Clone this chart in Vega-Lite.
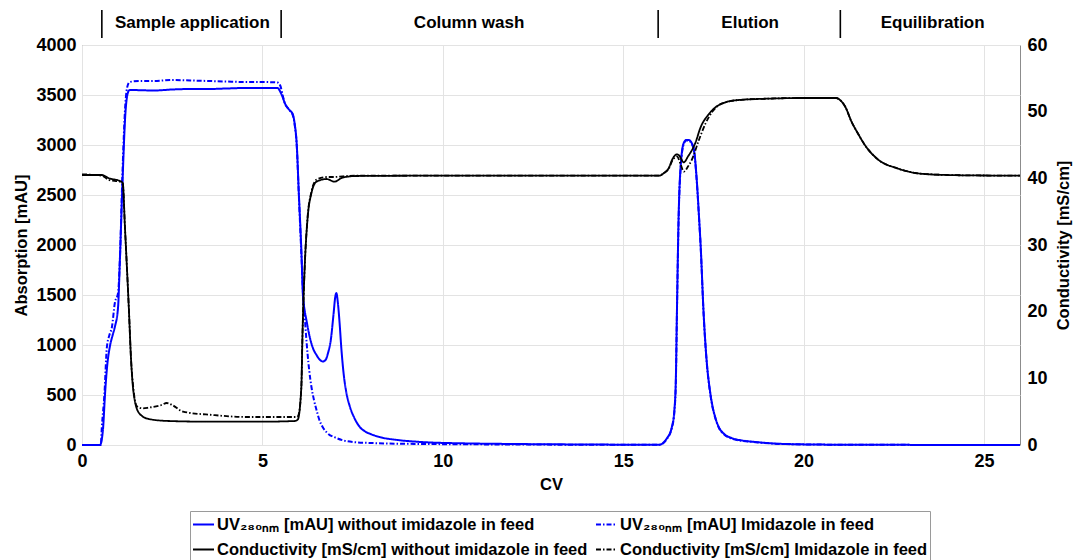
{
  "$schema": "https://vega.github.io/schema/vega-lite/v6.json",
  "width": 938,
  "height": 400,
  "autosize": {"type": "none"},
  "padding": {"left": 82, "top": 45, "right": 60, "bottom": 115},
  "background": "white",
  "config": {
    "view": {"stroke": "#8c8c8c", "strokeWidth": 1},
    "font": "Liberation Sans",
    "axis": {
      "labelFont": "Liberation Sans", "labelFontWeight": "bold", "labelFontSize": 18, "labelColor": "#000",
      "titleFont": "Liberation Sans", "titleFontWeight": "bold", "titleFontSize": 16.5, "titleColor": "#000",
      "domain": false, "ticks": false, "gridColor": "#e3e3e3", "gridWidth": 1, "labelFlush": false
    },
    "legend": {
      "labelFont": "Liberation Sans", "labelFontWeight": "bold", "labelFontSize": 16.5, "labelColor": "#000",
      "strokeColor": "#9a9a9a", "fillColor": "white", "padding": 2, "rowPadding": 5, "columnPadding": 4,
      "symbolStrokeWidth": 2, "labelLimit": 600, "labelOffset": 2
    }
  },
  "datasets": {
    "uv": [
      {"cv":0,"v":0,"s":"A"},{"cv":0.5,"v":0,"s":"A"},{"cv":0.58,"v":150,"s":"A"},{"cv":0.64,"v":520,"s":"A"},{"cv":0.7,"v":800,"s":"A"},{"cv":0.77,"v":980,"s":"A"},{"cv":0.85,"v":1100,"s":"A"},{"cv":0.91,"v":1180,"s":"A"},{"cv":1.0,"v":1380,"s":"A"},{"cv":1.05,"v":1850,"s":"A"},{"cv":1.12,"v":2600,"s":"A"},{"cv":1.2,"v":3300,"s":"A"},{"cv":1.27,"v":3520,"s":"A"},{"cv":1.32,"v":3550,"s":"A"},{"cv":2.0,"v":3545,"s":"A"},{"cv":2.5,"v":3555,"s":"A"},{"cv":3.0,"v":3560,"s":"A"},{"cv":3.5,"v":3560,"s":"A"},{"cv":4.0,"v":3565,"s":"A"},{"cv":4.5,"v":3570,"s":"A"},{"cv":5.0,"v":3570,"s":"A"},{"cv":5.42,"v":3570,"s":"A"},{"cv":5.5,"v":3530,"s":"A"},{"cv":5.56,"v":3480,"s":"A"},{"cv":5.62,"v":3420,"s":"A"},{"cv":5.75,"v":3350,"s":"A"},{"cv":5.84,"v":3310,"s":"A"},{"cv":5.9,"v":3200,"s":"A"},{"cv":5.95,"v":3020,"s":"A"},{"cv":6.01,"v":2520,"s":"A"},{"cv":6.09,"v":1850,"s":"A"},{"cv":6.12,"v":1520,"s":"A"},{"cv":6.17,"v":1350,"s":"A"},{"cv":6.22,"v":1250,"s":"A"},{"cv":6.3,"v":1100,"s":"A"},{"cv":6.39,"v":980,"s":"A"},{"cv":6.5,"v":900,"s":"A"},{"cv":6.6,"v":850,"s":"A"},{"cv":6.67,"v":835,"s":"A"},{"cv":6.75,"v":850,"s":"A"},{"cv":6.82,"v":920,"s":"A"},{"cv":6.9,"v":1060,"s":"A"},{"cv":6.97,"v":1300,"s":"A"},{"cv":7.02,"v":1480,"s":"A"},{"cv":7.05,"v":1520,"s":"A"},{"cv":7.09,"v":1430,"s":"A"},{"cv":7.14,"v":1220,"s":"A"},{"cv":7.19,"v":960,"s":"A"},{"cv":7.25,"v":720,"s":"A"},{"cv":7.33,"v":520,"s":"A"},{"cv":7.42,"v":390,"s":"A"},{"cv":7.55,"v":270,"s":"A"},{"cv":7.7,"v":180,"s":"A"},{"cv":7.85,"v":135,"s":"A"},{"cv":8.0,"v":110,"s":"A"},{"cv":8.3,"v":75,"s":"A"},{"cv":8.7,"v":52,"s":"A"},{"cv":9.2,"v":35,"s":"A"},{"cv":9.6,"v":26,"s":"A"},{"cv":10.5,"v":17,"s":"A"},{"cv":12,"v":10,"s":"A"},{"cv":14,"v":5,"s":"A"},{"cv":15.99,"v":2,"s":"A"},{"cv":16.2,"v":60,"s":"A"},{"cv":16.35,"v":180,"s":"A"},{"cv":16.42,"v":350,"s":"A"},{"cv":16.46,"v":650,"s":"A"},{"cv":16.49,"v":1320,"s":"A"},{"cv":16.54,"v":2320,"s":"A"},{"cv":16.6,"v":2820,"s":"A"},{"cv":16.68,"v":3020,"s":"A"},{"cv":16.75,"v":3050,"s":"A"},{"cv":16.82,"v":3050,"s":"A"},{"cv":16.9,"v":3020,"s":"A"},{"cv":16.96,"v":2960,"s":"A"},{"cv":17.04,"v":2650,"s":"A"},{"cv":17.1,"v":2300,"s":"A"},{"cv":17.15,"v":1980,"s":"A"},{"cv":17.23,"v":1320,"s":"A"},{"cv":17.32,"v":820,"s":"A"},{"cv":17.4,"v":560,"s":"A"},{"cv":17.46,"v":420,"s":"A"},{"cv":17.55,"v":280,"s":"A"},{"cv":17.65,"v":180,"s":"A"},{"cv":17.8,"v":110,"s":"A"},{"cv":18.0,"v":70,"s":"A"},{"cv":18.3,"v":45,"s":"A"},{"cv":18.67,"v":30,"s":"A"},{"cv":19.5,"v":10,"s":"A"},{"cv":21,"v":3,"s":"A"},{"cv":26,"v":0,"s":"A"},
      {"cv":0,"v":0,"s":"B"},{"cv":0.52,"v":0,"s":"B"},{"cv":0.55,"v":180,"s":"B"},{"cv":0.62,"v":500,"s":"B"},{"cv":0.69,"v":980,"s":"B"},{"cv":0.76,"v":1100,"s":"B"},{"cv":0.83,"v":1180,"s":"B"},{"cv":0.91,"v":1420,"s":"B"},{"cv":1.0,"v":1520,"s":"B"},{"cv":1.05,"v":1850,"s":"B"},{"cv":1.12,"v":2700,"s":"B"},{"cv":1.2,"v":3400,"s":"B"},{"cv":1.27,"v":3600,"s":"B"},{"cv":1.32,"v":3630,"s":"B"},{"cv":1.6,"v":3640,"s":"B"},{"cv":2.0,"v":3640,"s":"B"},{"cv":2.5,"v":3650,"s":"B"},{"cv":3.0,"v":3645,"s":"B"},{"cv":3.5,"v":3640,"s":"B"},{"cv":4.0,"v":3635,"s":"B"},{"cv":4.5,"v":3630,"s":"B"},{"cv":5.0,"v":3630,"s":"B"},{"cv":5.42,"v":3625,"s":"B"},{"cv":5.5,"v":3590,"s":"B"},{"cv":5.56,"v":3500,"s":"B"},{"cv":5.62,"v":3420,"s":"B"},{"cv":5.75,"v":3350,"s":"B"},{"cv":5.84,"v":3300,"s":"B"},{"cv":5.9,"v":3190,"s":"B"},{"cv":5.95,"v":3010,"s":"B"},{"cv":6.01,"v":2500,"s":"B"},{"cv":6.09,"v":1830,"s":"B"},{"cv":6.14,"v":1420,"s":"B"},{"cv":6.17,"v":1300,"s":"B"},{"cv":6.21,"v":1100,"s":"B"},{"cv":6.25,"v":920,"s":"B"},{"cv":6.3,"v":740,"s":"B"},{"cv":6.36,"v":580,"s":"B"},{"cv":6.43,"v":450,"s":"B"},{"cv":6.5,"v":350,"s":"B"},{"cv":6.58,"v":250,"s":"B"},{"cv":6.67,"v":180,"s":"B"},{"cv":6.8,"v":120,"s":"B"},{"cv":7.05,"v":70,"s":"B"},{"cv":7.5,"v":30,"s":"B"},{"cv":8.0,"v":20,"s":"B"},{"cv":9.0,"v":12,"s":"B"},{"cv":12,"v":5,"s":"B"},{"cv":16.0,"v":2,"s":"B"},{"cv":16.2,"v":55,"s":"B"},{"cv":16.35,"v":170,"s":"B"},{"cv":16.42,"v":330,"s":"B"},{"cv":16.46,"v":620,"s":"B"},{"cv":16.49,"v":1300,"s":"B"},{"cv":16.54,"v":2300,"s":"B"},{"cv":16.6,"v":2800,"s":"B"},{"cv":16.68,"v":3010,"s":"B"},{"cv":16.75,"v":3045,"s":"B"},{"cv":16.82,"v":3045,"s":"B"},{"cv":16.9,"v":3010,"s":"B"},{"cv":16.96,"v":2950,"s":"B"},{"cv":17.04,"v":2640,"s":"B"},{"cv":17.1,"v":2290,"s":"B"},{"cv":17.15,"v":1970,"s":"B"},{"cv":17.23,"v":1310,"s":"B"},{"cv":17.32,"v":810,"s":"B"},{"cv":17.4,"v":550,"s":"B"},{"cv":17.46,"v":410,"s":"B"},{"cv":17.55,"v":275,"s":"B"},{"cv":17.65,"v":175,"s":"B"},{"cv":17.8,"v":105,"s":"B"},{"cv":18.0,"v":65,"s":"B"},{"cv":18.3,"v":42,"s":"B"},{"cv":18.67,"v":28,"s":"B"},{"cv":19.5,"v":9,"s":"B"},{"cv":21,"v":3,"s":"B"},{"cv":26,"v":0,"s":"B"}
    ],
    "cond": [
      {"cv":0,"c":40.5,"s":"C"},{"cv":0.55,"c":40.5,"s":"C"},{"cv":0.75,"c":40.0,"s":"C"},{"cv":1.05,"c":39.6,"s":"C"},{"cv":1.13,"c":39.3,"s":"C"},{"cv":1.19,"c":32.7,"s":"C"},{"cv":1.3,"c":20.3,"s":"C"},{"cv":1.36,"c":12.8,"s":"C"},{"cv":1.43,"c":7.8,"s":"C"},{"cv":1.58,"c":4.8,"s":"C"},{"cv":1.85,"c":3.9,"s":"C"},{"cv":2.4,"c":3.6,"s":"C"},{"cv":3.5,"c":3.5,"s":"C"},{"cv":5.0,"c":3.5,"s":"C"},{"cv":5.9,"c":3.6,"s":"C"},{"cv":5.98,"c":3.8,"s":"C"},{"cv":6.08,"c":8.7,"s":"C"},{"cv":6.11,"c":16.2,"s":"C"},{"cv":6.17,"c":26.3,"s":"C"},{"cv":6.25,"c":33.8,"s":"C"},{"cv":6.36,"c":37.8,"s":"C"},{"cv":6.5,"c":39.5,"s":"C"},{"cv":6.78,"c":39.9,"s":"C"},{"cv":7.0,"c":39.5,"s":"C"},{"cv":7.22,"c":40.1,"s":"C"},{"cv":7.6,"c":40.35,"s":"C"},{"cv":10,"c":40.4,"s":"C"},{"cv":16.0,"c":40.4,"s":"C"},{"cv":16.13,"c":40.8,"s":"C"},{"cv":16.27,"c":41.6,"s":"C"},{"cv":16.35,"c":42.7,"s":"C"},{"cv":16.49,"c":43.6,"s":"C"},{"cv":16.54,"c":43.5,"s":"C"},{"cv":16.68,"c":42.4,"s":"C"},{"cv":16.8,"c":43.3,"s":"C"},{"cv":17.0,"c":45.3,"s":"C"},{"cv":17.15,"c":47.7,"s":"C"},{"cv":17.37,"c":49.6,"s":"C"},{"cv":17.73,"c":51.2,"s":"C"},{"cv":18.2,"c":51.75,"s":"C"},{"cv":19,"c":51.95,"s":"C"},{"cv":20,"c":52.05,"s":"C"},{"cv":20.9,"c":52.05,"s":"C"},{"cv":21.0,"c":51.8,"s":"C"},{"cv":21.16,"c":50.7,"s":"C"},{"cv":21.33,"c":48.5,"s":"C"},{"cv":21.5,"c":46.8,"s":"C"},{"cv":21.7,"c":45.0,"s":"C"},{"cv":22.07,"c":42.8,"s":"C"},{"cv":22.6,"c":41.5,"s":"C"},{"cv":23.1,"c":40.8,"s":"C"},{"cv":23.5,"c":40.6,"s":"C"},{"cv":24.5,"c":40.45,"s":"C"},{"cv":26,"c":40.4,"s":"C"},
      {"cv":0,"c":40.6,"s":"D"},{"cv":0.55,"c":40.4,"s":"D"},{"cv":0.75,"c":39.75,"s":"D"},{"cv":1.05,"c":39.5,"s":"D"},{"cv":1.13,"c":39.2,"s":"D"},{"cv":1.19,"c":32.7,"s":"D"},{"cv":1.3,"c":20.3,"s":"D"},{"cv":1.36,"c":12.8,"s":"D"},{"cv":1.43,"c":8.2,"s":"D"},{"cv":1.52,"c":5.8,"s":"D"},{"cv":1.69,"c":5.5,"s":"D"},{"cv":1.85,"c":5.6,"s":"D"},{"cv":2.2,"c":6.0,"s":"D"},{"cv":2.35,"c":6.3,"s":"D"},{"cv":2.5,"c":6.0,"s":"D"},{"cv":2.8,"c":5.0,"s":"D"},{"cv":3.63,"c":4.5,"s":"D"},{"cv":4.55,"c":4.2,"s":"D"},{"cv":5.95,"c":4.2,"s":"D"},{"cv":6.0,"c":4.5,"s":"D"},{"cv":6.08,"c":8.7,"s":"D"},{"cv":6.11,"c":16.2,"s":"D"},{"cv":6.17,"c":26.3,"s":"D"},{"cv":6.25,"c":34.0,"s":"D"},{"cv":6.36,"c":38.0,"s":"D"},{"cv":6.5,"c":39.8,"s":"D"},{"cv":6.78,"c":40.2,"s":"D"},{"cv":7.0,"c":40.2,"s":"D"},{"cv":7.22,"c":40.3,"s":"D"},{"cv":7.6,"c":40.4,"s":"D"},{"cv":16.0,"c":40.4,"s":"D"},{"cv":16.13,"c":40.8,"s":"D"},{"cv":16.27,"c":41.5,"s":"D"},{"cv":16.35,"c":42.5,"s":"D"},{"cv":16.49,"c":43.3,"s":"D"},{"cv":16.6,"c":42.0,"s":"D"},{"cv":16.68,"c":41.0,"s":"D"},{"cv":16.8,"c":41.8,"s":"D"},{"cv":16.9,"c":42.75,"s":"D"},{"cv":17.1,"c":45.75,"s":"D"},{"cv":17.29,"c":48.3,"s":"D"},{"cv":17.5,"c":50.2,"s":"D"},{"cv":17.73,"c":51.2,"s":"D"},{"cv":18.2,"c":51.75,"s":"D"},{"cv":19,"c":51.95,"s":"D"},{"cv":20,"c":52.05,"s":"D"},{"cv":20.9,"c":52.05,"s":"D"},{"cv":21.0,"c":51.8,"s":"D"},{"cv":21.16,"c":50.7,"s":"D"},{"cv":21.33,"c":48.5,"s":"D"},{"cv":21.5,"c":46.8,"s":"D"},{"cv":21.7,"c":45.0,"s":"D"},{"cv":22.07,"c":42.8,"s":"D"},{"cv":22.6,"c":41.5,"s":"D"},{"cv":23.1,"c":40.8,"s":"D"},{"cv":23.5,"c":40.6,"s":"D"},{"cv":24.5,"c":40.45,"s":"D"},{"cv":26,"c":40.4,"s":"D"}
    ],
    "bars": [
      {"cv":0.55,"v":4070,"v2":4350},{"cv":5.52,"v":4070,"v2":4350},{"cv":15.97,"v":4070,"v2":4350},{"cv":21.02,"v":4070,"v2":4350}
    ],
    "phases": [
      {"cv":3.06,"v":4220,"lab":"Sample application"},{"cv":10.73,"v":4220,"lab":"Column wash"},{"cv":18.52,"v":4220,"lab":"Elution"},{"cv":23.58,"v":4220,"lab":"Equilibration"}
    ]
  },
  "encoding": {
    "x": {
      "field": "cv", "type": "quantitative",
      "scale": {"domain": [0, 26], "nice": false, "zero": false},
      "axis": {"title": "CV", "values": [0, 5, 10, 15, 20, 25], "grid": true, "labelPadding": 7, "titlePadding": 6}
    }
  },
  "layer": [
    {
      "encoding": {
        "y": {
          "field": "v", "type": "quantitative",
          "scale": {"domain": [0, 4000], "nice": false},
          "axis": {"title": "Absorption [mAU]", "format": "d", "values": [0, 500, 1000, 1500, 2000, 2500, 3000, 3500, 4000], "grid": true, "labelPadding": 6, "titlePadding": 6}
        }
      },
      "layer": [
        {
          "data": {"name": "uv"},
          "mark": {"type": "line", "strokeWidth": 2, "interpolate": "monotone"},
          "encoding": {
            "color": {
              "field": "s", "type": "nominal",
              "scale": {"domain": ["A", "B", "C", "D"], "range": ["#0000ff", "#0000ff", "#000000", "#000000"]},
              "legend": {"orient": "none", "legendX": 108, "legendY": 466, "columns": 2, "direction": "horizontal", "title": null, "symbolType": "stroke", "symbolSize": 441,
                "labelExpr": "datum.value == 'A' ? 'UV₂₈₀ₙₘ [mAU] without imidazole in feed' : datum.value == 'B' ? 'UV₂₈₀ₙₘ [mAU] Imidazole in feed' : datum.value == 'C' ? 'Conductivity [mS/cm] without imidazole in feed' : 'Conductivity [mS/cm] Imidazole in feed'"}
            },
            "strokeDash": {
              "field": "s", "type": "nominal",
              "scale": {"domain": ["A", "B", "C", "D"], "range": [[1, 0], [5, 2, 1.5, 2], [1, 0], [5, 2, 1.5, 2]]},
              "legend": {"orient": "none", "legendX": 108, "legendY": 466, "columns": 2, "direction": "horizontal", "title": null, "symbolType": "stroke", "symbolSize": 441,
                "labelExpr": "datum.value == 'A' ? 'UV₂₈₀ₙₘ [mAU] without imidazole in feed' : datum.value == 'B' ? 'UV₂₈₀ₙₘ [mAU] Imidazole in feed' : datum.value == 'C' ? 'Conductivity [mS/cm] without imidazole in feed' : 'Conductivity [mS/cm] Imidazole in feed'"}
            }
          }
        },
        {
          "data": {"name": "bars"},
          "mark": {"type": "rule", "color": "#000", "strokeWidth": 1.6},
          "encoding": {"y2": {"field": "v2"}}
        },
        {
          "data": {"name": "phases"},
          "mark": {"type": "text", "font": "Liberation Sans", "fontWeight": "bold", "fontSize": 17, "color": "#000", "align": "center", "baseline": "middle"},
          "encoding": {"text": {"field": "lab"}}
        }
      ]
    },
    {
      "data": {"name": "cond"},
      "mark": {"type": "line", "strokeWidth": 1.8, "interpolate": "monotone"},
      "encoding": {
        "y": {
          "field": "c", "type": "quantitative",
          "scale": {"domain": [0, 60], "nice": false},
          "axis": {"orient": "right", "title": "Conductivity [mS/cm]", "values": [0, 10, 20, 30, 40, 50, 60], "grid": false, "labelPadding": 7, "titlePadding": 8, "titleAngle": 270, "titleBaseline": "top"}
        },
        "color": {
          "field": "s", "type": "nominal",
          "scale": {"domain": ["A", "B", "C", "D"], "range": ["#0000ff", "#0000ff", "#000000", "#000000"]},
          "legend": {"orient": "none", "legendX": 108, "legendY": 466, "columns": 2, "direction": "horizontal", "title": null, "symbolType": "stroke", "symbolSize": 441,
            "labelExpr": "datum.value == 'A' ? 'UV₂₈₀ₙₘ [mAU] without imidazole in feed' : datum.value == 'B' ? 'UV₂₈₀ₙₘ [mAU] Imidazole in feed' : datum.value == 'C' ? 'Conductivity [mS/cm] without imidazole in feed' : 'Conductivity [mS/cm] Imidazole in feed'"}
        },
        "strokeDash": {
          "field": "s", "type": "nominal",
          "scale": {"domain": ["A", "B", "C", "D"], "range": [[1, 0], [5, 2, 1.5, 2], [1, 0], [5, 2, 1.5, 2]]},
          "legend": {"orient": "none", "legendX": 108, "legendY": 466, "columns": 2, "direction": "horizontal", "title": null, "symbolType": "stroke", "symbolSize": 441,
            "labelExpr": "datum.value == 'A' ? 'UV₂₈₀ₙₘ [mAU] without imidazole in feed' : datum.value == 'B' ? 'UV₂₈₀ₙₘ [mAU] Imidazole in feed' : datum.value == 'C' ? 'Conductivity [mS/cm] without imidazole in feed' : 'Conductivity [mS/cm] Imidazole in feed'"}
        }
      }
    }
  ],
  "resolve": {"scale": {"y": "independent"}}
}
